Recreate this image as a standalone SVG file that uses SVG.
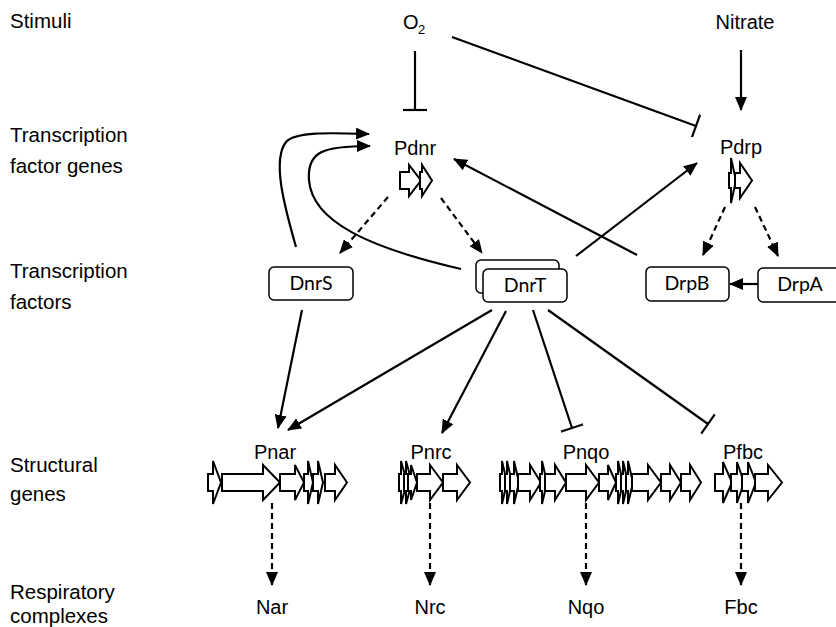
<svg xmlns="http://www.w3.org/2000/svg" width="836" height="627" viewBox="0 0 836 627">
<defs>
<marker id="ah" markerUnits="userSpaceOnUse" markerWidth="14" markerHeight="12" viewBox="0 0 14 12" refX="13" refY="6" orient="auto">
<path d="M0,0 L14,6 L0,12 Z" fill="#000"/>
</marker>
<marker id="tee" markerUnits="userSpaceOnUse" markerWidth="4" markerHeight="24" viewBox="0 0 4 24" refX="2" refY="12" orient="auto">
<path d="M2,0 V24" stroke="#000" stroke-width="2.2"/>
</marker>
</defs>
<style>
.lbl{font-family:"Liberation Sans",Arial,sans-serif;font-size:20px;fill:#000}
.row{font-size:20.5px}
.mid{text-anchor:middle}
.box{fill:#fff;stroke:#000;stroke-width:1.5}
.bt{font-family:Lato,"Liberation Sans",sans-serif;font-size:19.5px;text-anchor:middle;fill:#000}
.gene{fill:#fff;stroke:#000;stroke-width:2;stroke-linejoin:miter}
.c{fill:none;stroke:#000;stroke-width:2.2}
.act{marker-end:url(#ah)}
.inh{marker-end:url(#tee)}
.dash{stroke-dasharray:6 4}
</style>
<rect width="836" height="627" fill="#fff"/>

<g id="row-labels">
<text class="lbl row" x="10" y="28">Stimuli</text>
<text class="lbl row" x="10" y="142">Transcription</text>
<text class="lbl row" x="10" y="173">factor genes</text>
<text class="lbl row" x="10" y="278">Transcription</text>
<text class="lbl row" x="10" y="309">factors</text>
<text class="lbl row" x="10" y="472">Structural</text>
<text class="lbl row" x="10" y="501">genes</text>
<text class="lbl row" x="10" y="599">Respiratory</text>
<text class="lbl row" x="10" y="623">complexes</text>
</g>

<g id="connectors">
<line class="c inh" x1="415" y1="51" x2="415" y2="110"/>
<line class="c inh" x1="452" y1="37" x2="696" y2="126"/>
<line class="c act" x1="741" y1="50" x2="741" y2="110"/>
<line class="c act dash" x1="388" y1="197" x2="340" y2="253"/>
<line class="c act dash" x1="441" y1="198" x2="482" y2="253"/>
<line class="c act dash" x1="725" y1="207" x2="703" y2="255"/>
<line class="c act dash" x1="755" y1="207" x2="778" y2="256"/>
<path class="c act" d="M296,247 C284,205 272,160 286,142 C296,131 335,133 369,134"/>
<path class="c act" d="M461,269 C370,248 312,222 309,180 C307,152 322,146 370,146"/>
<line class="c act" x1="637" y1="255" x2="454" y2="159"/>
<line class="c act" x1="576" y1="256" x2="697" y2="163"/>
<line class="c act" x1="758" y1="284" x2="730" y2="284"/>
<line class="c act" x1="302" y1="310" x2="278" y2="428"/>
<line class="c act" x1="492" y1="310" x2="288" y2="430"/>
<line class="c act" x1="506" y1="311" x2="442" y2="433"/>
<line class="c inh" x1="533" y1="310" x2="572" y2="428"/>
<line class="c inh" x1="548" y1="310" x2="708" y2="424"/>
<line class="c act dash" x1="272" y1="503" x2="272" y2="585"/>
<line class="c act dash" x1="430" y1="503" x2="430" y2="585"/>
<line class="c act dash" x1="586" y1="503" x2="586" y2="585"/>
<line class="c act dash" x1="741" y1="503" x2="741" y2="585"/>
</g>

<g id="O2"><text class="lbl" x="403" y="29">O</text><text class="lbl" x="418" y="34" style="font-size:13px">2</text></g>
<g id="Nitrate"><text class="lbl mid" x="745" y="29">Nitrate</text></g>

<g id="Pdnr">
<text class="lbl mid" x="415" y="155">Pdnr</text>
<path class="gene" d="M400,172 H409 V165 L421,180.5 L409,196 V189 H400 Z"/>
<path class="gene" d="M420,172 H422 V165 L432,180.5 L422,196 V189 H420 Z"/>
</g>

<g id="Pdrp">
<text class="lbl mid" x="741" y="154">Pdrp</text>
<path class="gene" d="M729,173 H731 V158 L736,180.5 L731,203 V188 H729 Z"/>
<path class="gene" d="M735,173 H740 V163 L752,180.5 L740,198 V188 H735 Z"/>
</g>

<g id="DnrS"><rect class="box" x="269" y="267" width="84" height="33" rx="5"/><text class="bt" x="311" y="290">DnrS</text></g>
<g id="DnrT">
<rect class="box" x="476" y="260" width="83" height="33" rx="5"/>
<rect class="box" x="483" y="269" width="84" height="33" rx="5"/>
<text class="bt" x="525" y="292">DnrT</text>
</g>
<g id="DrpB"><rect class="box" x="646" y="267" width="83" height="34" rx="5"/><text class="bt" x="687" y="290">DrpB</text></g>
<g id="DrpA"><rect class="box" x="758" y="268" width="84" height="34" rx="5"/><text class="bt" x="800" y="291">DrpA</text></g>

<g id="Pnar">
<text class="lbl mid" x="275" y="459">Pnar</text>
<path class="gene" d="M208,474 H213 V461 L221,482.5 L213,504 V491 H208 Z"/>
<path class="gene" d="M222,474 H263 V465 L280,482.5 L263,500 V491 H222 Z"/>
<path class="gene" d="M280,474 H295 V465 L304,482.5 L295,500 V491 H280 Z"/>
<path class="gene" d="M304,474 H308 V461 L313,482.5 L308,504 V491 H304 Z"/>
<path class="gene" d="M313,474 H318 V461 L323,482.5 L318,504 V491 H313 Z"/>
<path class="gene" d="M325,474 H335 V465 L347,482.5 L335,500 V491 H325 Z"/>
</g>

<g id="Pnrc">
<text class="lbl mid" x="431" y="459">Pnrc</text>
<path class="gene" d="M399,474 H401 V461 L407,482.5 L401,504 V491 H399 Z"/>
<path class="gene" d="M404,474 H406 V461 L412,482.5 L406,504 V491 H404 Z"/>
<path class="gene" d="M408,474 H411 V465 L417,482.5 L411,500 V491 H408 Z"/>
<path class="gene" d="M417,474 H430 V465 L443,482.5 L430,500 V491 H417 Z"/>
<path class="gene" d="M443,474 H457 V465 L470,482.5 L457,500 V491 H443 Z"/>
</g>

<g id="Pnqo">
<text class="lbl mid" x="586" y="459">Pnqo</text>
<path class="gene" d="M500,474 H502 V461 L507,482.5 L502,504 V491 H500 Z"/>
<path class="gene" d="M505,474 H507 V461 L512,482.5 L507,504 V491 H505 Z"/>
<path class="gene" d="M510,474 H514 V461 L519,482.5 L514,504 V491 H510 Z"/>
<path class="gene" d="M518,474 H530 V465 L541,482.5 L530,500 V491 H518 Z"/>
<path class="gene" d="M540,474 H542 V461 L547,482.5 L542,504 V491 H540 Z"/>
<path class="gene" d="M545,474 H555 V465 L566,482.5 L555,500 V491 H545 Z"/>
<path class="gene" d="M566,474 H586 V465 L599,482.5 L586,500 V491 H566 Z"/>
<path class="gene" d="M599,474 H608 V465 L616,482.5 L608,500 V491 H599 Z"/>
<path class="gene" d="M616,474 H618 V461 L623,482.5 L618,504 V491 H616 Z"/>
<path class="gene" d="M621,474 H623 V461 L628,482.5 L623,504 V491 H621 Z"/>
<path class="gene" d="M626,474 H628 V461 L633,482.5 L628,504 V491 H626 Z"/>
<path class="gene" d="M632,474 H648 V465 L661,482.5 L648,500 V491 H632 Z"/>
<path class="gene" d="M661,474 H670 V465 L681,482.5 L670,500 V491 H661 Z"/>
<path class="gene" d="M681,474 H690 V465 L701,482.5 L690,500 V491 H681 Z"/>
</g>

<g id="Pfbc">
<text class="lbl mid" x="743" y="459">Pfbc</text>
<path class="gene" d="M715,474 H723 V462 L732,482.5 L723,503 V491 H715 Z"/>
<path class="gene" d="M731,474 H737 V462 L744,482.5 L737,503 V491 H731 Z"/>
<path class="gene" d="M742,474 H748 V462 L756,482.5 L748,503 V491 H742 Z"/>
<path class="gene" d="M755,474 H768 V465 L782,482.5 L768,500 V491 H755 Z"/>
</g>

<g id="Nar"><text class="lbl mid" x="272" y="614">Nar</text></g>
<g id="Nrc"><text class="lbl mid" x="430" y="614">Nrc</text></g>
<g id="Nqo"><text class="lbl mid" x="586" y="614">Nqo</text></g>
<g id="Fbc"><text class="lbl mid" x="741" y="614">Fbc</text></g>
</svg>
